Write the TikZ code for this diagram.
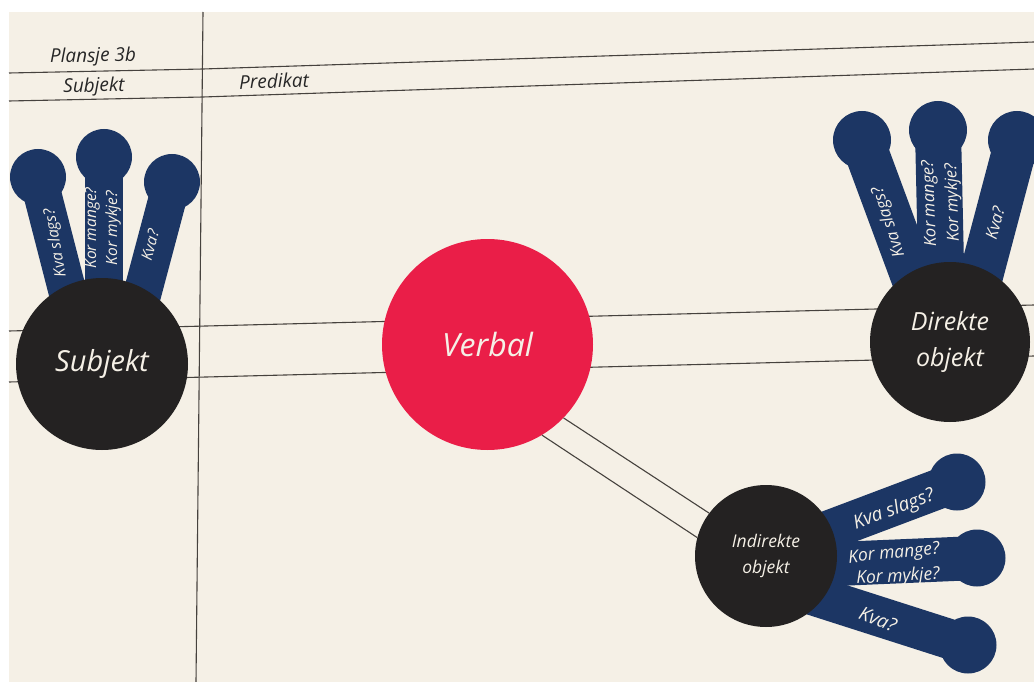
\documentclass[tikz,border=0pt]{standalone}
\usepackage{fontspec}
\setmainfont{Open Sans}
\definecolor{page}{RGB}{245,240,230}
\definecolor{navy}{RGB}{28,54,100}
\definecolor{dark}{RGB}{36,34,34}
\definecolor{verbred}{RGB}{234,30,72}
\definecolor{rule}{RGB}{70,66,62}
\tikzset{
  gridline/.style={draw=rule, line width=1.1pt},
  bigcirc/.style={circle, inner sep=0pt, text=page, font=\itshape, align=center},
  ballnode/.style={circle, fill=navy, inner sep=0pt, minimum size=#1},
  stick/.style={draw=navy, line width=#1},
  qtext/.style={text=page, font=\itshape\fontsize{15.5}{16}\selectfont, inner sep=0pt, align=center},
  head/.style={text=black!85, font=\itshape\fontsize{19}{20}\selectfont, inner sep=0pt}
}
\begin{document}
\begin{tikzpicture}[x=1pt,y=-1pt]
\useasboundingbox (0,0) rectangle (1034,682);
\fill[white] (0,0) rectangle (1034,682);
\fill[page] (9,12) rectangle (1034,682);

% grid lines
\coordinate (v1) at (203,12);
\coordinate (v2) at (196,682);
\draw[gridline] (v1) -- (v2);
\coordinate (a1) at (9,73); \coordinate (a2) at (203,69); \coordinate (a3) at (1034,42);
\draw[gridline] (a1) -- (a2) -- (a3);
\coordinate (b1) at (9,101); \coordinate (b2) at (203,97); \coordinate (b3) at (1034,69);
\draw[gridline] (b1) -- (b2) -- (b3);
\coordinate (c1) at (9,331); \coordinate (c2) at (1034,305);
\draw[gridline] (c1) -- (c2);
\coordinate (d1) at (9,382); \coordinate (d2) at (1034,356);
\draw[gridline] (d1) -- (d2);

% headings
\node[head, rotate=1.2] (plansje) at (93,57) {Plansje 3b};
\node[head, rotate=1.2] (subjhead) at (94,87) {Subjekt};
\node[head, rotate=2] (predhead) at (274,81) {Predikat};

% ---- Subjekt lollipops
\node[ballnode=56pt] (s1) at (38,177) {};
\node[ballnode=56pt] (s2) at (104,157) {};
\node[ballnode=56pt] (s3) at (172,182) {};
\coordinate (s1b) at (80,340);
\coordinate (s2b) at (104,340);
\coordinate (s3b) at (130,340);
\draw[stick=38pt] (s1.center) -- (s1b);
\draw[stick=38pt] (s2.center) -- (s2b);
\draw[stick=38pt] (s3.center) -- (s3b);

% ---- Direkte objekt lollipops
\node[ballnode=58pt] (d1b) at (862,140) {};
\node[ballnode=58pt] (d2b) at (938,130) {};
\node[ballnode=58pt] (d3b) at (1017,140) {};
\coordinate (d1e) at (925,310);
\coordinate (d2e) at (942,310);
\coordinate (d3e) at (972,310);
\draw[stick=44pt] (d1b.center) -- (d1e);
\draw[stick=46pt] (d2b.center) -- (d2e);
\draw[stick=44pt] (d3b.center) -- (d3e);

% ---- Indirekte objekt lollipops
\node[ballnode=57pt] (i1b) at (957,482) {};
\node[ballnode=57pt] (i2b) at (977,558) {};
\node[ballnode=57pt] (i3b) at (968,645) {};
\coordinate (i1e) at (790,545);
\coordinate (i2e) at (790,566);
\coordinate (i3e) at (790,588);
\draw[stick=40pt] (i1b.center) -- (i1e);
\draw[stick=44pt] (i2b.center) -- (i2e);
\draw[stick=40pt] (i3b.center) -- (i3e);

% ---- main circles
\node[bigcirc, fill=dark, minimum size=172pt, font=\itshape\fontsize{29}{34}\selectfont] (subj) at (102,364) {Subjekt};
\node[bigcirc, fill=verbred, minimum size=211pt, font=\itshape\fontsize{32}{38}\selectfont] (verbal) at (487.5,344.5) {Verbal};
\node[bigcirc, fill=dark, minimum size=160pt, font=\itshape\fontsize{25}{36}\selectfont] (dobj) at (950,342) {Direkte\\objekt};
\node[bigcirc, fill=dark, minimum size=142pt, font=\itshape\fontsize{17.5}{26}\selectfont] (iobj) at (766,556) {Indirekte\\objekt};

% connectors Verbal -> Indirekte objekt
\draw[gridline] (verbal.-44) -- (iobj.143);
\draw[gridline] (verbal.-59) -- (iobj.165);

% ---- question texts
\node[qtext, rotate=100] (sq1) at (56,243) {Kva slags?};
\node[qtext, rotate=90, font=\itshape\fontsize{15.5}{21}\selectfont] (sq2) at (103,228) {Kor mange?\\Kor mykje?};
\node[qtext, rotate=75] (sq3) at (150,245) {Kva?};

\node[qtext, rotate=108, font=\itshape\fontsize{16.5}{18}\selectfont] (dq1) at (889,222) {Kva slags?};
\node[qtext, rotate=92, font=\itshape\fontsize{16.5}{23}\selectfont] (dq2) at (942,203) {Kor mange?\\Kor mykje?};
\node[qtext, rotate=75, font=\itshape\fontsize{16.5}{18}\selectfont] (dq3) at (995,223) {Kva?};

\node[qtext, rotate=20, font=\itshape\fontsize{19}{20}\selectfont] (iq1) at (894,510) {Kva slags?};
\node[qtext, rotate=6, font=\itshape\fontsize{17.5}{19}\selectfont] (iq2) at (894,554) {Kor mange?};
\node[qtext, rotate=3, font=\itshape\fontsize{17.5}{19}\selectfont] (iq3) at (898,577) {Kor mykje?};
\node[qtext, rotate=-22, font=\itshape\fontsize{19}{20}\selectfont] (iq4) at (878,619) {Kva?};
\end{tikzpicture}
\end{document}
